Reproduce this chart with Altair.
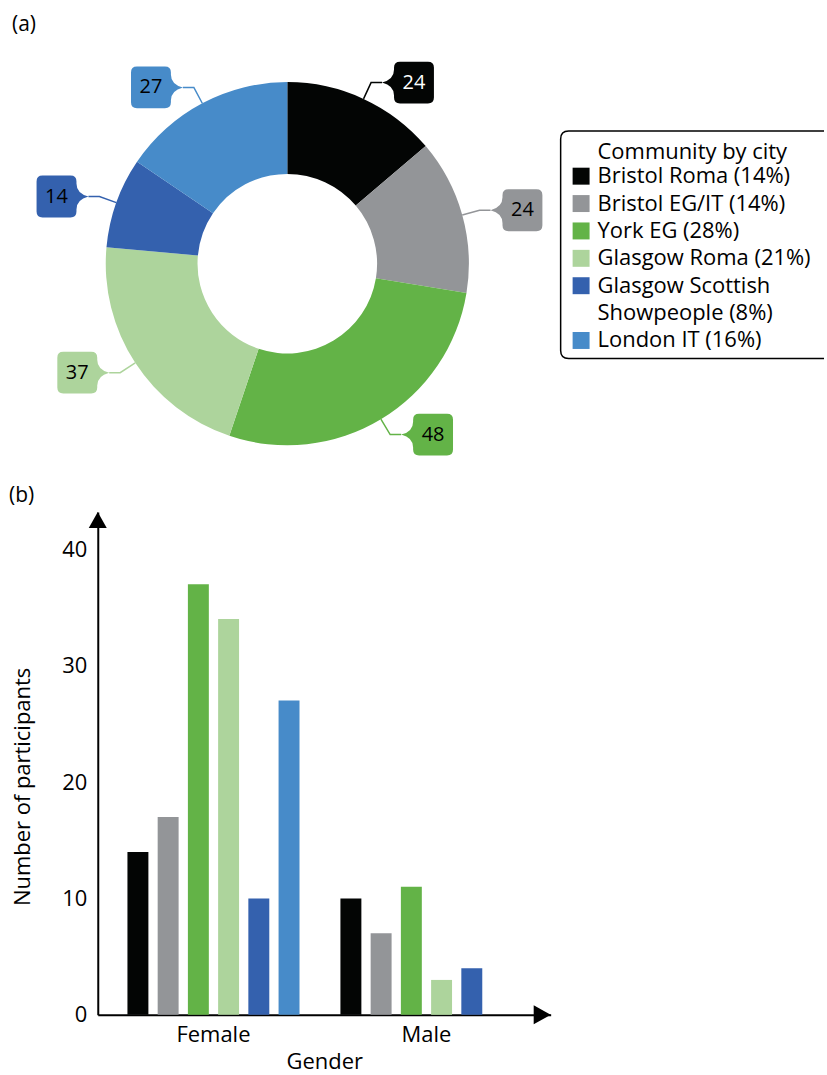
import math
import textwrap
import altair as alt
import pandas as pd

# ---------------- data ----------------
communities = ["Bristol Roma", "Bristol EG/IT", "York EG", "Glasgow Roma",
               "Glasgow Scottish Showpeople", "London IT"]
totals = [24, 24, 48, 37, 14, 27]
colors = ["#030504", "#939598", "#63b347", "#add49c", "#3461ae", "#478bc9"]
legend_title = "Community by city"

genders = ["Female", "Male"]
female_counts = [14, 17, 37, 34, 10, 27]
male_counts = [10, 7, 11, 3, 4, None]
y_ticks = [0, 10, 20, 30, 40]

# ---------------- layout (page pixels) ----------------
FONT = "Open Sans"
PAD_L = 9
OX = 98                    # x of the bar chart's y axis = origin of both panels
W_TOP, H_TOP = 827 - OX, 512
CX, CY = 288, 263          # donut centre
R_OUT, R_IN = 182, 90
R_ELBOW, TAIL = 200, 11
LEG_X, LEG_Y, LEG_W, LEG_H = 562, 130, 264, 228
LEG_SW_X, LEG_TXT_X = 582.5, 599
LEG_TITLE_Y, LEG_ROW0_Y, LEG_STEP = 150.7, 175.3, 27.45

W_BOT, H_BOT = 454, 504
PX_PER_UNIT = 11.667

# callout bubble shapes (pixel units: size=4 -> scale 1), tip at origin
PATH_BOX_RIGHT = ("M0,0 Q12,-3 12,-13 L12,-15 Q12,-21 18,-21 L46,-21 Q52,-21 52,-15 "
                  "L52,15 Q52,21 46,21 L18,21 Q12,21 12,15 L12,13 Q12,3 0,0 Z")
PATH_BOX_LEFT = ("M0,0 Q-12,-3 -12,-13 L-12,-15 Q-12,-21 -18,-21 L-46,-21 Q-52,-21 -52,-15 "
                 "L-52,15 Q-52,21 -46,21 L-18,21 Q-12,21 -12,15 L-12,13 Q-12,3 0,0 Z")
LEGEND_FRAME = (f"M{LEG_W},0 L8,0 Q0,0 0,8 L0,{LEG_H - 8} Q0,{LEG_H} 8,{LEG_H} "
                f"L{LEG_W},{LEG_H}")
ARROW_RIGHT = "M-8.5,-9.5 L8.5,0 L-8.5,9.5 Z"
ARROW_UP = "M0,-8 L9,8 L-9,8 Z"


def is_dark(hexcol):
    r, g, b = (int(hexcol[i:i + 2], 16) for i in (1, 3, 5))
    return (0.299 * r + 0.587 * g + 0.114 * b) / 255 < 0.25


grand = sum(totals)
donut_df = pd.DataFrame({"community": communities, "value": totals,
                         "idx": list(range(len(communities)))})

line_rows, box_rows = [], []
cum = 0
for name, v, col in zip(communities, totals, colors):
    mid = (cum + v / 2) / grand * 2 * math.pi
    cum += v
    s, c = math.sin(mid), math.cos(mid)
    ax, ay = CX + R_OUT * s, CY - R_OUT * c
    ex, ey = CX + R_ELBOW * s, CY - R_ELBOW * c
    right = s > 0
    tx = ex + TAIL if right else ex - TAIL
    line_rows += [dict(community=name, pt=0, x=ax, y=ay),
                  dict(community=name, pt=1, x=ex, y=ey),
                  dict(community=name, pt=2, x=tx, y=ey)]
    box_rows.append(dict(community=name, x=tx, y=ey,
                         path=PATH_BOX_RIGHT if right else PATH_BOX_LEFT,
                         tx=tx + 32 if right else tx - 32,
                         label=str(v), dark=is_dark(col)))
line_df = pd.DataFrame(line_rows)
box_df = pd.DataFrame(box_rows)

leg_text_rows = [dict(x=LEG_TXT_X, y=LEG_TITLE_Y, text=legend_title)]
leg_sw_rows = []
row = 0
for name, v in zip(communities, totals):
    label = f"{name} ({round(100 * v / grand)}%)"
    for j, part in enumerate(textwrap.wrap(label, 20)):
        yy = LEG_ROW0_Y + row * LEG_STEP
        leg_text_rows.append(dict(x=LEG_TXT_X, y=yy, text=part))
        if j == 0:
            leg_sw_rows.append(dict(community=name, x=LEG_SW_X, y=yy))
        row += 1
leg_text_df = pd.DataFrame(leg_text_rows)
leg_sw_df = pd.DataFrame(leg_sw_rows)

panel_labels_df = pd.DataFrame({"text": ["(a)", "(b)"], "x": [12, 9], "y": [24, 496]})
frame_df = pd.DataFrame({"x": [LEG_X], "y": [LEG_Y]})

bar_rows = []
for g, counts in zip(genders, [female_counts, male_counts]):
    for name, n in zip(communities, counts):
        if n is not None:
            bar_rows.append(dict(gender=g, community=name, count=n))
bar_df = pd.DataFrame(bar_rows)

one = pd.DataFrame({"k": [0]})

# ---------------- top panel: donut ----------------
xs = alt.Scale(domain=[OX, OX + W_TOP], nice=False, zero=False)
ys = alt.Scale(domain=[0, H_TOP], reverse=True, nice=False, zero=False)
color_scale = alt.Scale(domain=communities, range=colors)
col_enc = alt.Color("community:N", scale=color_scale, legend=None)


def X(f):
    return alt.X(f, type="quantitative", scale=xs, axis=None)


def Y(f):
    return alt.Y(f, type="quantitative", scale=ys, axis=None)


legend_frame = alt.Chart(frame_df).mark_point(
    shape=LEGEND_FRAME, size=4, filled=False, color="black", opacity=1, strokeWidth=1.5
).encode(x=X("x"), y=Y("y"))

arc = alt.Chart(donut_df).mark_arc(innerRadius=R_IN, outerRadius=R_OUT).encode(
    theta=alt.Theta("value:Q", stack=True),
    order=alt.Order("idx:Q"),
    color=col_enc,
    x=alt.value(CX - OX), y=alt.value(CY),
)

lines = alt.Chart(line_df).mark_line(strokeWidth=1.5).encode(
    x=X("x"), y=Y("y"), color=col_enc, detail="community:N", order="pt:Q")

boxes = alt.Chart(box_df).mark_point(filled=True, size=4, opacity=1, strokeWidth=0).encode(
    x=X("x"), y=Y("y"), color=col_enc, shape=alt.Shape("path:N", scale=None))

box_text = alt.Chart(box_df).mark_text(fontSize=20, font=FONT).encode(
    x=X("tx"), y=Y("y"), text="label:N",
    color=alt.condition("datum.dark", alt.value("white"), alt.value("black")))

swatches = alt.Chart(leg_sw_df).mark_square(size=289, opacity=1).encode(
    x=X("x"), y=Y("y"), color=col_enc)

leg_text = alt.Chart(leg_text_df).mark_text(
    align="left", fontSize=22, font=FONT, color="black").encode(
    x=X("x"), y=Y("y"), text="text:N")

panel_labels = alt.Chart(panel_labels_df).mark_text(
    align="left", fontSize=21, font=FONT, color="black").encode(
    x=X("x"), y=Y("y"), text="text:N")

top = alt.layer(legend_frame, arc, lines, boxes, box_text, swatches, leg_text,
                panel_labels).properties(width=W_TOP, height=H_TOP)

# ---------------- bottom panel: grouped bars ----------------
bars = alt.Chart(bar_df).mark_bar().encode(
    x=alt.X("gender:N", sort=genders,
            scale=alt.Scale(domain=genders, paddingInner=0.1, paddingOuter=0.11325,
                            align=0.412),
            axis=alt.Axis(title="Gender", labelAngle=0, ticks=False, labelPadding=10,
                          titleBaseline="alphabetic", titleY=54,
                          domainWidth=2, domainColor="black",
                          labelFontSize=22, titleFontSize=22, labelColor="black",
                          titleColor="black", titleFontWeight="normal", labelFont=FONT,
                          titleFont=FONT)),
    xOffset=alt.XOffset("community:N",
                        scale=alt.Scale(domain=communities, paddingInner=0.307,
                                        paddingOuter=0.3245)),
    y=alt.Y("count:Q", scale=alt.Scale(domain=[0, H_BOT / PX_PER_UNIT], nice=False),
            axis=alt.Axis(title="Number of participants", values=y_ticks, grid=False,
                          ticks=False, labelPadding=11, titlePadding=27,
                          titleY=275,
                          domainWidth=2, domainColor="black", labelFontSize=22,
                          titleFontSize=22, labelColor="black", titleColor="black",
                          titleFontWeight="normal", labelFont=FONT, titleFont=FONT)),
    color=col_enc,
)

x_arrow = alt.Chart(one).mark_point(
    shape=ARROW_RIGHT, size=4, filled=True, color="black", opacity=1, strokeWidth=0
).encode(x=alt.value(W_BOT - 8.5), y=alt.value(H_BOT))

y_arrow = alt.Chart(one).mark_point(
    shape=ARROW_UP, size=4, filled=True, color="black", opacity=1, strokeWidth=0
).encode(x=alt.value(0), y=alt.value(8))

bottom = alt.layer(bars, x_arrow, y_arrow).properties(width=W_BOT, height=H_BOT)

chart = alt.vconcat(top, bottom, spacing=0, bounds="full"
                    ).properties(padding={"left": PAD_L, "top": 0, "right": 0, "bottom": 0}
                    ).configure(font=FONT, view=alt.ViewConfig(stroke=None))

chart.save("out.html", embed_options={"renderer": "svg", "actions": False})
